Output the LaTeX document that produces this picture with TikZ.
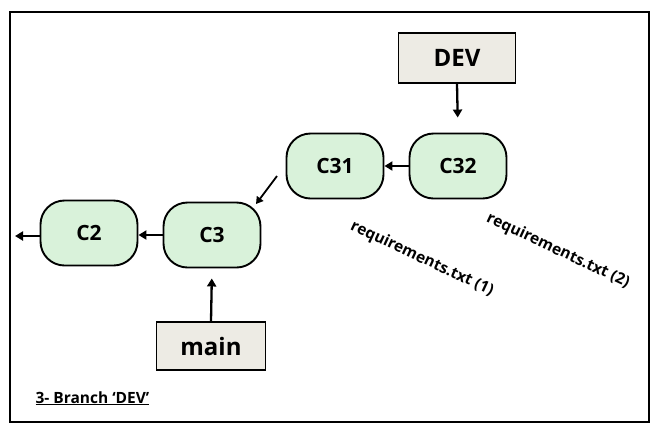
\documentclass[tikz,border=0pt]{standalone}
\usepackage{fontspec}
\setmainfont{Open Sans}
\usetikzlibrary{arrows.meta}
\definecolor{commitfill}{HTML}{D9F2DA}
\definecolor{reffill}{HTML}{EDEBE4}
\begin{document}
\begin{tikzpicture}[x=1pt,y=-1pt,
  commit/.style={draw=black, line width=1.9pt, fill=commitfill, rounded corners=24pt,
    minimum width=97pt, minimum height=65pt, inner sep=0pt, font=\bfseries\fontsize{21}{23}\selectfont},
  refbox/.style={draw=black, line width=1.9pt, fill=reffill, inner sep=0pt,
    font=\bfseries\fontsize{24}{26}\selectfont},
  arr/.style={-{Triangle[length=8pt,width=9pt]}, line width=2.3pt},
  filelbl/.style={font=\bfseries\fontsize{15.5}{17}\selectfont, rotate=-25}]
\useasboundingbox (0,0) rectangle (660,432);
\draw[line width=2pt] (10,12) rectangle (649,422);
\node[commit] (c2) at (89,233) {C2};
\node[commit] (c3) at (212,235) {C3};
\node[commit] (c31) at (335,166) {C31};
\node[commit] (c32) at (458,166) {C32};
\node[refbox, minimum width=117pt, minimum height=50pt] (dev) at (457,58) {DEV};
\node[refbox, minimum width=109pt, minimum height=48pt] (main) at (211,346) {main};
\coordinate (left) at (15,236);
\draw[arr] (c2.west |- left) -- (left);
\draw[arr] (c3.west) -- (c2.east |- c3.west);
\draw[arr] (c32.west) -- (c31.east);
\draw[arr, shorten >=15pt] (dev.south) -- (c32.north);
\draw[arr, shorten >=10pt] (main.north) -- (c3.south);
\draw[line width=1.8pt, -{Triangle[length=7pt,width=8pt]}] (277,176) -- (256,204);
\node[filelbl] (r1) at (422,259) {requirements.txt (1)};
\node[filelbl] (r2) at (558,251) {requirements.txt (2)};
\node[anchor=base west, font=\bfseries\fontsize{15.5}{17}\selectfont] (lbl) at (32,403) {\underline{3- Branch ‘DEV’}};
\end{tikzpicture}
\end{document}
